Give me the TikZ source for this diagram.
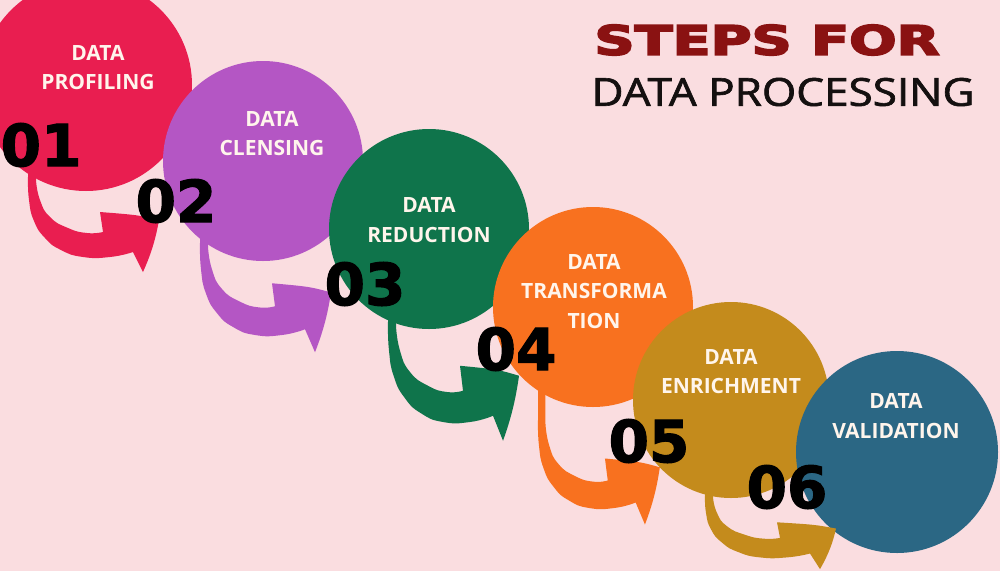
\documentclass[tikz,border=0pt]{standalone}
\usepackage{fontspec}
\usepackage{graphicx}
\setmainfont{Open Sans}
\newfontfamily\numfont{DejaVu Sans}[BoldFeatures={FakeBold=2}]
\newfontfamily\headfont{DejaVu Sans}[BoldFeatures={FakeBold=4}]
\newfontfamily\procfont{Open Sans}[FakeBold=1.6]
\definecolor{bgpink}{HTML}{FADDE0}
\definecolor{cred}{HTML}{E91E50}
\definecolor{cpurple}{HTML}{B456C4}
\definecolor{cgreen}{HTML}{0F744B}
\definecolor{corange}{HTML}{F8711F}
\definecolor{cgold}{HTML}{C48B1C}
\definecolor{cblue}{HTML}{2B6784}
\definecolor{ctitle}{HTML}{8A1212}
\definecolor{ctext}{HTML}{FFF5EC}
\definecolor{cdark}{HTML}{141010}
\newcommand\swooshArrow[5]{%
  \begin{scope}[shift={(#2,#3)}, xscale=#4, yscale=#5]
    \fill[#1] (0,-60) -- plot[smooth,tension=0.9] coordinates {(0,0) (1,23) (6,44) (17,61) (33,73) (55,80) (82,80) (105,75)}
      -- (115,95) .. controls (124,75) and (128,60) .. (131,43) .. controls (110,38) .. (72,35)
      -- plot[smooth,tension=0.9] coordinates {(75,55) (59,56) (40,51) (22,40) (12,23) (8,3)}
      -- (8,-60) -- cycle;
  \end{scope}}
\begin{document}
\begin{tikzpicture}[x=1pt,y=-1pt,
  disc/.style={circle, inner sep=0, draw=none},
  lbl/.style={text=ctext, font=\bfseries\fontsize{21}{29.5}\selectfont, align=center, inner sep=0},
  num/.style={inner sep=0, text=black, font=\numfont\bfseries\fontsize{58}{58}\selectfont}]
\fill[bgpink] (0,0) rectangle (1000,571);
\useasboundingbox (0,0) rectangle (1000,571);
\clip (0,0) rectangle (1000,571);
% circles
\node[disc, fill=cred, minimum size=212pt] (c1) at (86,85) {};
\node[disc, fill=cpurple, minimum size=200pt] (c2) at (263,161) {};
\node[disc, fill=cgreen, minimum size=200pt] (c3) at (429,229) {};
\node[disc, fill=corange, minimum size=200pt] (c4) at (593,307) {};
\node[disc, fill=cgold, minimum size=196pt] (c5) at (731,400) {};
\node[disc, fill=cblue, minimum size=202pt] (c6) at (897,452) {};
% curved arrows
\swooshArrow{cred}{28}{177}{1}{1}
\swooshArrow{cpurple}{200}{243}{1}{1.15}
\swooshArrow{cgreen}{388}{322}{1}{1.25}
\swooshArrow{corange}{538}{420}{0.93}{1.1}
\swooshArrow{cgold}{705}{495}{1}{0.78}
% labels
\node[lbl] (t1) at (98,67.5) {DATA\\PROFILING};
\node[lbl] (t2) at (272,133.5) {DATA\\CLENSING};
\node[lbl] (t3) at (429,220) {DATA\\REDUCTION};
\node[lbl] (t4) at (594,291.5) {DATA\\TRANSFORMA\\TION};
\node[lbl] (t5) at (731,371.5) {DATA\\ENRICHMENT};
\node[lbl] (t6) at (896,416) {DATA\\VALIDATION};
% numbers
\node[num, anchor=west] (n1) at (0.5,145) {01};
\node[num] (n2) at (176,201) {02};
\node[num] (n3) at (365,284) {03};
\node[num] (n4) at (516,349) {04};
\node[num] (n5) at (649,441) {05};
\node[num] (n6) at (787,487) {06};
% title
\node[inner sep=0, text=ctitle] (title1) at (767,40) {\resizebox{345pt}{30pt}{\headfont\bfseries STEPS FOR}};
\node[inner sep=0, text=cdark] (title2) at (783,92) {\resizebox{383pt}{28pt}{\procfont DATA PROCESSING}};
\end{tikzpicture}
\end{document}
